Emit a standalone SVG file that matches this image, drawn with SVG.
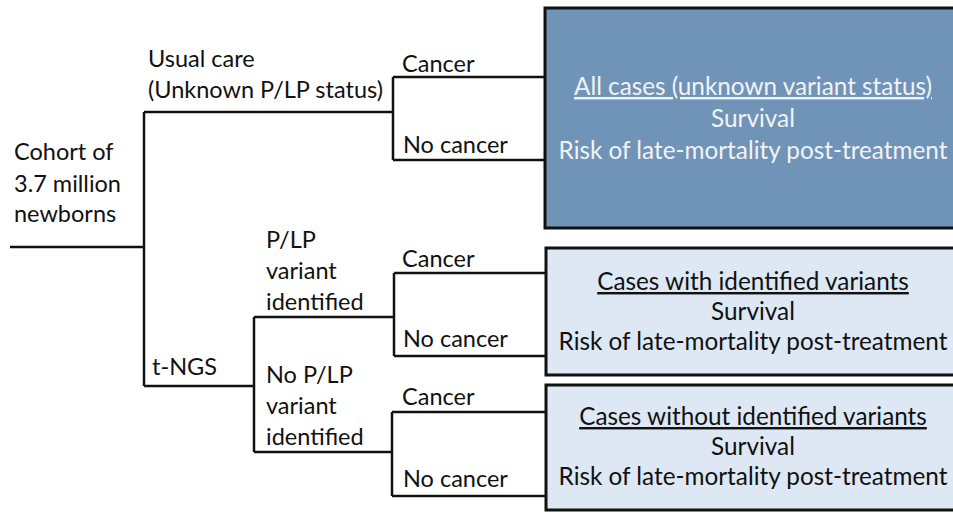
<svg xmlns="http://www.w3.org/2000/svg" width="953" height="512" viewBox="0 0 953 512">
<style>
text{font-family:Lato,"Liberation Sans",sans-serif;font-size:23.5px;fill:#111}
.c{text-anchor:middle;font-size:24.3px}
.w{fill:#f2f2f2}
.u{text-decoration:underline}
.ln{fill:none;stroke:#111;stroke-width:2.5}
.box{stroke:#111;stroke-width:3}
</style>
<rect width="953" height="512" fill="#fff"/>
<g id="connectors" class="ln">
<path d="M10,247H144M144,112V386M144,112H393M393,77V160M393,77H545M393,160H545"/>
<path d="M144,386H254M254,317V452M254,317H394M394,273V356M394,273H546M394,356H546"/>
<path d="M254,452H392M392,412V496M392,412H546M392,496H546"/>
</g>
<g id="root"><text x="14" y="160">Cohort of</text><text x="14" y="192">3.7 million</text><text x="14" y="222">newborns</text></g>
<g id="usual"><text x="148" y="67">Usual care</text><text x="148" y="98">(Unknown P/LP status)</text></g>
<g id="tngs"><text x="152" y="375">t-NGS</text></g>
<g id="plp"><text x="266" y="248">P/LP</text><text x="266" y="279">variant</text><text x="266" y="310">identified</text></g>
<g id="noplp"><text x="266" y="383">No P/LP</text><text x="266" y="414">variant</text><text x="266" y="445">identified</text></g>
<g id="c1"><text x="402" y="72">Cancer</text><text x="403" y="153">No cancer</text></g>
<g id="c2"><text x="402" y="267">Cancer</text><text x="403" y="347">No cancer</text></g>
<g id="c3"><text x="402" y="405">Cancer</text><text x="403" y="487">No cancer</text></g>
<g id="box1"><rect class="box" x="545" y="8" width="410" height="220" fill="#7094b8"/>
<text class="c w u" x="753" y="95">All cases (unknown variant status)</text><text class="c w" x="753" y="127">Survival</text><text class="c w" x="753" y="159">Risk of late-mortality post-treatment</text></g>
<g id="box2"><rect class="box" x="546" y="248" width="410" height="127" fill="#dde8f4"/>
<text class="c u" x="753" y="290">Cases with identified variants</text><text class="c" x="753" y="320">Survival</text><text class="c" x="753" y="350">Risk of late-mortality post-treatment</text></g>
<g id="box3"><rect class="box" x="546" y="385" width="410" height="125" fill="#dde8f4"/>
<text class="c u" x="753" y="425">Cases without identified variants</text><text class="c" x="753" y="455">Survival</text><text class="c" x="753" y="485">Risk of late-mortality post-treatment</text></g>
</svg>
